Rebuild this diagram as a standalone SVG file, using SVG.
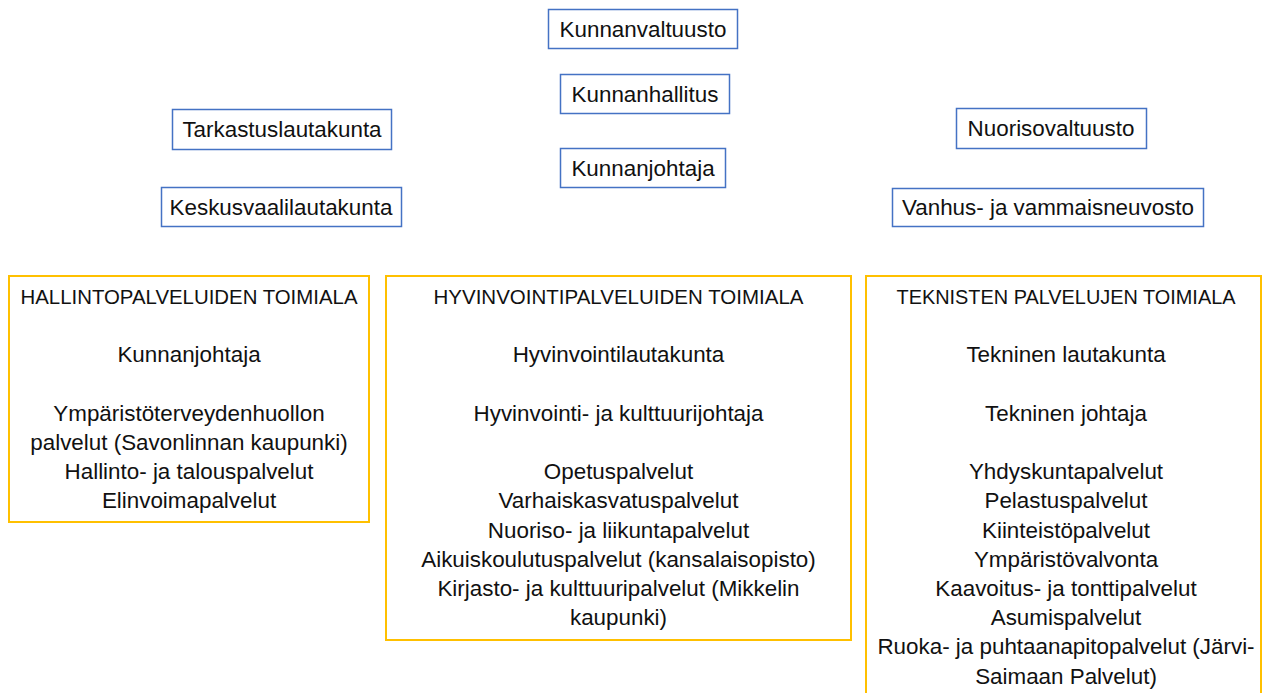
<svg xmlns="http://www.w3.org/2000/svg" width="1263" height="693" viewBox="0 0 1263 693">
<style>
.b{fill:#fff;stroke:#4472C4;stroke-width:1.5}
.y{fill:#fff;stroke:#FFC000;stroke-width:2}
text{font-family:"Liberation Sans",Arial,sans-serif;font-size:22.4px;fill:#111;text-anchor:middle}
.h{font-size:20px}
</style>
<rect width="1263" height="693" fill="#fff"/>
<g id="connectors"></g>
<g id="kunnanvaltuusto"><rect class="b" x="548.5" y="9.5" width="189" height="39"/><text x="643" y="37">Kunnanvaltuusto</text></g>
<g id="kunnanhallitus"><rect class="b" x="560.5" y="74.5" width="169" height="39"/><text x="645" y="102">Kunnanhallitus</text></g>
<g id="kunnanjohtaja"><rect class="b" x="560.5" y="148.5" width="165" height="39"/><text x="643" y="176">Kunnanjohtaja</text></g>
<g id="tarkastuslautakunta"><rect class="b" x="172.5" y="109.5" width="219" height="40"/><text x="282" y="137">Tarkastuslautakunta</text></g>
<g id="keskusvaalilautakunta"><rect class="b" x="161.5" y="187.5" width="240" height="39"/><text x="281" y="215">Keskusvaalilautakunta</text></g>
<g id="nuorisovaltuusto"><rect class="b" x="956.5" y="108.5" width="190" height="40"/><text x="1051" y="136">Nuorisovaltuusto</text></g>
<g id="vanhusneuvosto"><rect class="b" x="892.5" y="188.5" width="311" height="38"/><text x="1048" y="215">Vanhus- ja vammaisneuvosto</text></g>
<g id="hallinto">
<rect class="y" x="9" y="276" width="360" height="246"/>
<text class="h" x="189" y="304" textLength="337" lengthAdjust="spacingAndGlyphs">HALLINTOPALVELUIDEN TOIMIALA</text>
<text x="189" y="362.4">Kunnanjohtaja</text>
<text x="189" y="420.8">Ympäristöterveydenhuollon</text>
<text x="189" y="450">palvelut (Savonlinnan kaupunki)</text>
<text x="189" y="479.2">Hallinto- ja talouspalvelut</text>
<text x="189" y="508.4">Elinvoimapalvelut</text>
</g>
<g id="hyvinvointi">
<rect class="y" x="386" y="276" width="465" height="364"/>
<text class="h" x="618.5" y="304" textLength="370" lengthAdjust="spacingAndGlyphs">HYVINVOINTIPALVELUIDEN TOIMIALA</text>
<text x="618.5" y="362.4">Hyvinvointilautakunta</text>
<text x="618.5" y="420.8">Hyvinvointi- ja kulttuurijohtaja</text>
<text x="618.5" y="479.2">Opetuspalvelut</text>
<text x="618.5" y="508.4">Varhaiskasvatuspalvelut</text>
<text x="618.5" y="537.6">Nuoriso- ja liikuntapalvelut</text>
<text x="618.5" y="566.8">Aikuiskoulutuspalvelut (kansalaisopisto)</text>
<text x="618.5" y="596">Kirjasto- ja kulttuuripalvelut (Mikkelin</text>
<text x="618.5" y="625.2">kaupunki)</text>
</g>
<g id="tekniset">
<rect class="y" x="866" y="276" width="395" height="430"/>
<text class="h" x="1066" y="304" textLength="339" lengthAdjust="spacingAndGlyphs">TEKNISTEN PALVELUJEN TOIMIALA</text>
<text x="1066" y="362.4">Tekninen lautakunta</text>
<text x="1066" y="420.8">Tekninen johtaja</text>
<text x="1066" y="479.2">Yhdyskuntapalvelut</text>
<text x="1066" y="508.4">Pelastuspalvelut</text>
<text x="1066" y="537.6">Kiinteistöpalvelut</text>
<text x="1066" y="566.8">Ympäristövalvonta</text>
<text x="1066" y="596">Kaavoitus- ja tonttipalvelut</text>
<text x="1066" y="625.2">Asumispalvelut</text>
<text x="1066" y="654.4">Ruoka- ja puhtaanapitopalvelut (Järvi-</text>
<text x="1066" y="683.6">Saimaan Palvelut)</text>
</g>
</svg>
